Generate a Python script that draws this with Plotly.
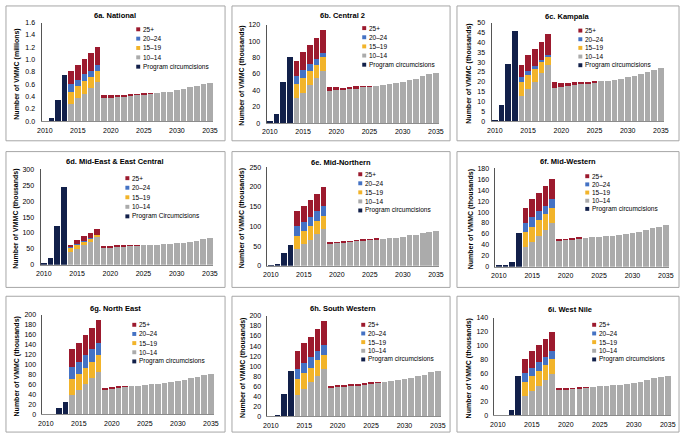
import plotly.graph_objects as go

W, H = 686, 439

years_prog = [2010, 2011, 2012, 2013]
years_proj = list(range(2014, 2036))
xtick_vals = [2010, 2015, 2020, 2025, 2030, 2035]
legend_labels = ["25+", "20–24", "15–19", "10–14", "Program circumcisions"]

# ---------------- data ----------------
# 6a National (millions)
nat_prog = [0.0, 0.05, 0.35, 0.75]
nat_10_14 = [0.28, 0.37, 0.44, 0.54, 0.63, 0.38, 0.39, 0.40, 0.41, 0.42, 0.43, 0.44, 0.45, 0.46, 0.47, 0.48, 0.50, 0.53, 0.55, 0.575, 0.60, 0.625]
nat_15_19 = [0.20, 0.20, 0.205, 0.185, 0.19] + [0] * 17
nat_20_24 = [0.12, 0.10, 0.115, 0.095, 0.09] + [0] * 17
nat_25p = [0.21, 0.25, 0.25, 0.29, 0.29, 0.04, 0.03, 0.02, 0.02, 0.015, 0.01, 0.01, 0.005] + [0] * 9

# 6b Central 2 (thousands)
c2_prog = [2, 11, 50, 80]
c2_10_14 = [30, 37, 47, 55, 63, 39, 40, 41, 42, 43, 44.5, 45, 45.5, 46.5, 47.5, 48.5, 50, 52, 54, 57, 59.5, 61.5]
c2_15_19 = [17.5, 18, 16, 16, 17] + [0] * 17
c2_20_24 = [9.5, 10, 8.5, 7, 5.5] + [0] * 17
c2_25p = [19, 22, 23.5, 26, 27.5, 5, 3.6, 2, 2.5, 2, 0.7, 0.5] + [0] * 10

# 6c Kampala (thousands)
kla_prog = [0.5, 8.2, 29.2, 45.8]
kla_10_14 = [12.5, 16.5, 20, 24.5, 28.3, 17, 17.5, 17.7, 18.2, 18.7, 19.3, 20, 20.2, 20.5, 21, 21.5, 22.2, 23, 24, 25.2, 26.2, 27]
kla_15_19 = [7.3, 6.7, 6.5, 5.8, 4.9] + [0] * 17
kla_20_24 = [2.7, 2.1, 1.3, 0.9, 0.3] + [0] * 17
kla_25p = [6.2, 8.4, 8.9, 9.1, 11, 2.8, 2.0, 1.8, 1.6, 1.3, 0.7, 0.3] + [0] * 10

# 6d Mid-East & East Central (thousands)
mee_prog = [3, 20, 121, 243]
mee_10_14 = [39, 50, 62, 72, 88, 52, 53, 55, 57, 59, 60, 61, 62, 63, 64, 65, 67, 70, 73, 76, 80, 83]
mee_15_19 = [15, 14, 10, 11, 5] + [0] * 17
mee_20_24 = [1, 2, 2, 2, 1] + [0] * 17
mee_25p = [5, 13, 17, 16, 19, 5, 5, 5, 4, 2, 1] + [0] * 11

# 6e Mid-Northern (thousands)
mn_prog = [1, 1.5, 32.5, 51.7]
mn_10_14 = [43, 55, 66, 80, 93, 56, 57, 59, 61, 62, 64, 66, 67, 68, 70, 71, 74, 77, 79, 82, 87, 89]
mn_15_19 = [32, 32.5, 34, 33, 33.5] + [0] * 17
mn_20_24 = [25, 24, 25, 26, 25] + [0] * 17
mn_25p = [38, 41.5, 43, 43.5, 47.5, 2, 2, 2, 1, 2, 1, 1, 1] + [0] * 9

# 6f Mid-Western (thousands)
mw_prog = [1, 1, 8.4, 61]
mw_10_14 = [36.6, 46, 56, 67, 80, 47, 49, 50, 51, 52, 54, 55, 56, 57, 58, 59, 61, 64, 67, 70, 73, 76]
mw_15_19 = [26.4, 27, 29, 29, 27] + [0] * 17
mw_20_24 = [17, 18, 17, 16, 17] + [0] * 17
mw_25p = [28, 32, 33, 35, 36, 2, 1, 1, 1] + [0] * 13

# 6g North East (thousands)
ne_prog = [0, 0, 12, 25]
ne_10_14 = [38, 50, 61, 73, 86, 51, 53, 54, 56, 57, 58, 60, 61, 62, 63, 65, 67, 70, 73, 76, 80, 82]
ne_15_19 = [33, 32, 33, 33, 32.5] + [0] * 17
ne_20_24 = [24, 24, 25, 25, 25.5] + [0] * 17
ne_25p = [36, 38, 40, 42.5, 45, 2, 2, 2, 1] + [0] * 13

# 6h South Western (thousands)
sw_prog = [0, 3.3, 44, 90]
sw_10_14 = [43, 54, 67.5, 81, 95, 57, 58, 59, 61, 62, 64, 66, 67, 69, 70, 72, 74, 77, 80, 83, 88, 91]
sw_15_19 = [30.4, 32, 29.5, 30.5, 28] + [0] * 17
sw_20_24 = [21.6, 21, 22, 19, 20] + [0] * 17
sw_25p = [36, 39, 40, 43.5, 47, 4, 4, 3, 2, 2, 1, 1, 1.5] + [0] * 9

# 6i West Nile (thousands)
wn_prog = [0, 0, 7, 56]
wn_10_14 = [28, 35, 42.5, 50.5, 60, 37, 37.5, 38, 39, 40, 41, 41.5, 42, 43, 44, 45, 46.5, 48.5, 50.5, 53, 55.5, 57]
wn_15_19 = [20, 21, 21.2, 21.2, 21] + [0] * 17
wn_20_24 = [13, 12, 12.3, 12.3, 11] + [0] * 17
wn_25p = [20, 24, 25.5, 25.5, 28, 1, 1, 0.5, 0.5, 0.5] + [0] * 12

# ---------------- styles ----------------
COL_25 = "#9C1A2E"
COL_20 = "#4472C4"
COL_15 = "#F2B42A"
COL_10 = "#ABABAB"
COL_PR = "#12204A"
FONT = "Liberation Sans, Arial, sans-serif"

TH = "Number of VMMC (thousands)"
panels = [
    dict(title="6a. National", ytitle="Number of VMMC (millions)", prog=nat_prog, s10=nat_10_14, s15=nat_15_19, s20=nat_20_24, s25=nat_25p,
         yr=1.6, dt=0.2, fmt=".1f", plot=(38, 212, 19, 119), tpos=(112, 12), yt_x=13, leg=(136, 25.7), legsp=9.5, prog_label="Program circumcisions"),
    dict(title="6b. Central 2", ytitle=TH, prog=c2_prog, s10=c2_10_14, s15=c2_15_19, s20=c2_20_24, s25=c2_25p,
         yr=120, dt=20, fmt="d", plot=(266, 441, 21, 121), tpos=(343, 12), yt_x=241, leg=(365, 24.5), legsp=9.3, prog_label="Program circumcisions"),
    dict(title="6c. Kampala", ytitle=TH, prog=kla_prog, s10=kla_10_14, s15=kla_15_19, s20=kla_20_24, s25=kla_25p,
         yr=50, dt=5, fmt="d", plot=(494, 669, 19, 119), tpos=(571, 13), yt_x=471, leg=(584, 27), legsp=8.8, prog_label="Program circumcisions"),
    dict(title="6d. Mid-East & East Central", ytitle=TH, prog=mee_prog, s10=mee_10_14, s15=mee_15_19, s20=mee_20_24, s25=mee_25p,
         yr=300, dt=50, fmt="d", plot=(37, 212, 168, 265), tpos=(112, 160), yt_x=12, leg=(125, 177), legsp=9.7, prog_label="Program Circumcisions"),
    dict(title="6e. Mid-Northern", ytitle=TH, prog=mn_prog, s10=mn_10_14, s15=mn_15_19, s20=mn_20_24, s25=mn_25p,
         yr=250, dt=50, fmt="d", plot=(267, 441, 166, 266), tpos=(341, 161), yt_x=241, leg=(361, 173), legsp=9.2, prog_label="Program circumcisions"),
    dict(title="6f. Mid-Western", ytitle=TH, prog=mw_prog, s10=mw_10_14, s15=mw_15_19, s20=mw_20_24, s25=mw_25p,
         yr=180, dt=20, fmt="d", plot=(498, 674, 167, 267), tpos=(571, 160), yt_x=473, leg=(591, 175), legsp=8.3, prog_label="Program circumcisions"),
    dict(title="6g. North East", ytitle=TH, prog=ne_prog, s10=ne_10_14, s15=ne_15_19, s20=ne_20_24, s25=ne_25p,
         yr=200, dt=20, fmt="d", plot=(39, 213, 316, 417), tpos=(113, 309), yt_x=13, leg=(132, 326), legsp=9.3, prog_label="Program circumcisions"),
    dict(title="6h. South Western", ytitle=TH, prog=sw_prog, s10=sw_10_14, s15=sw_15_19, s20=sw_20_24, s25=sw_25p,
         yr=200, dt=20, fmt="d", plot=(267, 443, 317, 419), tpos=(343, 309), yt_x=242, leg=(364, 326), legsp=8.8, prog_label="Program circumcisions"),
    dict(title="6i. West Nile", ytitle=TH, prog=wn_prog, s10=wn_10_14, s15=wn_15_19, s20=wn_20_24, s25=wn_25p,
         yr=140, dt=20, fmt="d", plot=(497, 676, 319, 418), tpos=(574, 310), yt_x=471, leg=(598, 326), legsp=8.8, prog_label="Program circumcisions"),
]

boxes_x = [(2, 224), (231, 452), (459, 684)]
boxes_y = [(2, 139), (150, 288), (297, 435)]


def px(x):
    return x / W


def py(y):
    return 1 - y / H


fig = go.Figure()
shapes = []
annotations = []
layout = {}

for i, p in enumerate(panels):
    n = i + 1
    xa = "x" if n == 1 else f"x{n}"
    ya = "y" if n == 1 else f"y{n}"
    x0, x1, y0, y1 = p["plot"]
    series = [(p["s10"], COL_10), (p["s15"], COL_15), (p["s20"], COL_20), (p["s25"], COL_25)]
    fig.add_trace(go.Bar(x=years_prog, y=p["prog"], marker_color=COL_PR, xaxis=xa, yaxis=ya,
                         showlegend=False, marker_line_width=0))
    for vals, col in series:
        fig.add_trace(go.Bar(x=years_proj, y=vals, marker_color=col, xaxis=xa, yaxis=ya,
                             showlegend=False, marker_line_width=0))
    axis_font = dict(family=FONT, size=7, color="#000")
    layout["xaxis" if n == 1 else f"xaxis{n}"] = dict(
        domain=[px(x0), px(x1)], anchor=ya, range=[2009.5, 2035.5], tickvals=xtick_vals,
        showline=True, linecolor="#8c8c8c", linewidth=1, showgrid=False, zeroline=False,
        ticks="", tickfont=axis_font, ticklabelstandoff=2)
    layout["yaxis" if n == 1 else f"yaxis{n}"] = dict(
        domain=[py(y1), py(y0)], anchor=xa, range=[0, p["yr"]], dtick=p["dt"], tick0=0,
        tickformat=p["fmt"], showline=True, linecolor="#555", linewidth=1, showgrid=False,
        zeroline=False, ticks="", tickfont=axis_font, ticklabelstandoff=4)
    # panel border
    bx = boxes_x[i % 3]
    by = boxes_y[i // 3]
    shapes.append(dict(type="rect", xref="paper", yref="paper", x0=px(bx[0]), x1=px(bx[1]),
                       y0=py(by[1]), y1=py(by[0]), line=dict(color="#a6a6a6", width=1)))
    # title
    annotations.append(dict(text=f"<b>{p['title']}</b>", x=px(p["tpos"][0]), y=py(p["tpos"][1]),
                            xref="paper", yref="paper", showarrow=False, xanchor="center", yanchor="middle",
                            font=dict(family=FONT, size=7.5, color="#000")))
    # y title
    annotations.append(dict(text=f"<b>{p['ytitle']}</b>", x=px(p["yt_x"]), y=py((y0 + y1) / 2 + 2),
                            xref="paper", yref="paper", showarrow=False, textangle=-90,
                            xanchor="center", yanchor="middle",
                            font=dict(family=FONT, size=7, color="#000")))
    # legend
    lx, ly = p["leg"]
    labels = legend_labels[:4] + [p["prog_label"]]
    cols = [COL_25, COL_20, COL_15, COL_10, COL_PR]
    for k, (lab, col) in enumerate(zip(labels, cols)):
        yy = ly + k * p["legsp"]
        shapes.append(dict(type="rect", xref="paper", yref="paper", x0=px(lx - 2), x1=px(lx + 2),
                           y0=py(yy + 2), y1=py(yy - 2), fillcolor=col, line=dict(width=0)))
        annotations.append(dict(text=lab, x=px(lx + 3), y=py(yy), xref="paper", yref="paper",
                                showarrow=False, xanchor="left", yanchor="middle",
                                font=dict(family=FONT, size=6.5, color="#000")))

fig.update_layout(
    width=W, height=H, margin=dict(l=0, r=0, t=0, b=0), autosize=False,
    paper_bgcolor="white", plot_bgcolor="white", barmode="stack", bargap=0.15,
    shapes=shapes, annotations=annotations, showlegend=False, **layout)

fig.write_html("out.html", config={"displayModeBar": False})

# remove the default page margin so the figure sits at the window origin
with open("out.html", "r", encoding="utf-8") as f:
    html = f.read()
html = html.replace("<head>", "<head><style>html,body{margin:0;padding:0;overflow:hidden;}</style>", 1)
with open("out.html", "w", encoding="utf-8") as f:
    f.write(html)
